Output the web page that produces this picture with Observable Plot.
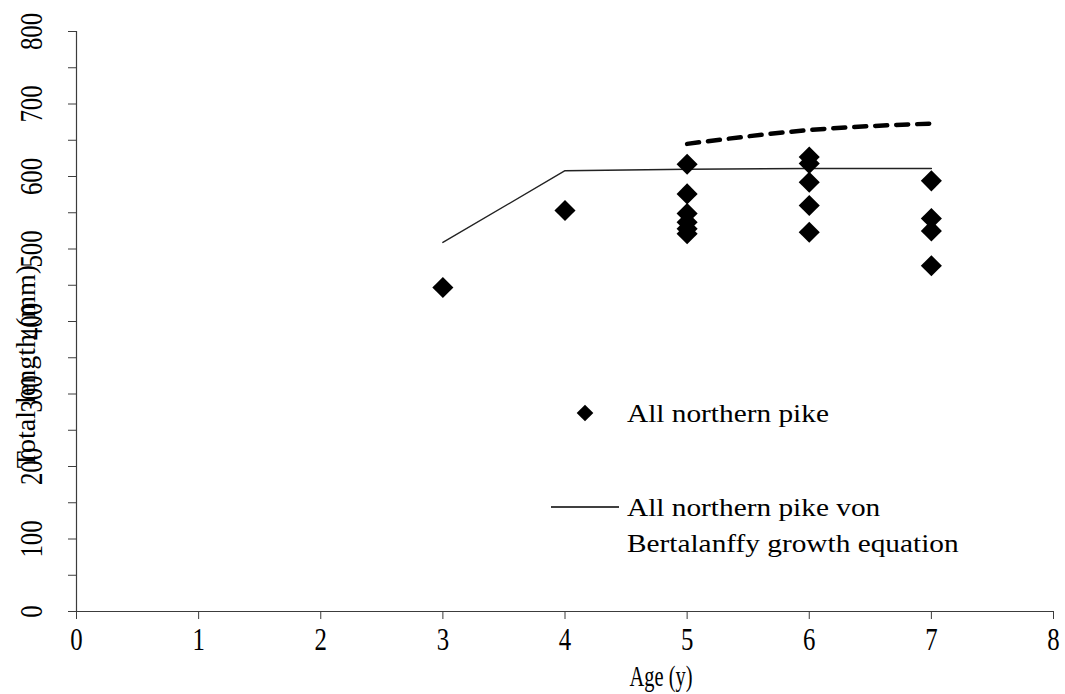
<!DOCTYPE html>
<html>
<head>
<meta charset="utf-8">
<script src="https://cdn.jsdelivr.net/npm/d3@7"></script>
<script src="https://cdn.jsdelivr.net/npm/@observablehq/plot@0.6"></script>
<style>
  html, body { margin: 0; padding: 0; background: #fff; }
  #chart { width: 1065px; height: 694px; }
</style>
</head>
<body>
<div id="chart"></div>
<script>
// Individual fish: age (years) and total length (mm)
const pikeAge    = [3,   4,   5,   5,   5,   5,   5,   5,   6,   6,   6,   6,   6,   7,   7,   7,   7];
const pikeLength = [447, 553, 617, 576, 549, 537, 528, 521, 627, 618, 592, 560, 523, 594, 542, 525, 477];

// von Bertalanffy growth curve for all northern pike
const vbAge    = [3,   4,   5,   6,   7];
const vbLength = [509, 608, 610, 611, 611];

// Second (dashed) curve
const dashAge    = [5,   6,   7];
const dashLength = [645, 664, 673];

// Axis ticks
const xTicks      = [0, 1, 2, 3, 4, 5, 6, 7, 8];
const yTicks      = [0, 100, 200, 300, 400, 500, 600, 700, 800];
const yMinorTicks = d3.range(0, 801, 50);

const legendItems = ["All northern pike", "All northern pike von", "Bertalanffy growth equation"];

const points = pikeAge.map((a, i) => ({age: a, length: pikeLength[i]}));
const vb = vbAge.map((a, i) => ({age: a, length: vbLength[i]}));
const dash = dashAge.map((a, i) => ({age: a, length: dashLength[i]}));

const axisGray = "#3c3c3c";

// Legend drawn in frame pixels
function legend(index, scales, values, dim) {
  const g = d3.create("svg:g");
  const ox = dim.marginLeft, oy = dim.marginTop;
  const sym = d3.symbol(d3.symbolDiamond2, Math.PI * 7.5 * 7.5);
  g.append("path")
    .attr("d", sym())
    .attr("transform", `translate(${ox + 509},${oy + 382})`)
    .attr("fill", "#000");
  g.append("line")
    .attr("x1", ox + 475).attr("x2", ox + 543)
    .attr("y1", oy + 476).attr("y2", oy + 476)
    .attr("stroke", "#000").attr("stroke-width", 1.3);
  const rows = [[382, legendItems[0]], [476, legendItems[1]], [512, legendItems[2]]];
  for (const [dy, t] of rows) {
    g.append("text")
      .attr("transform", `translate(${ox + 551},${oy + dy}) scale(1.15,1)`)
      .attr("dy", "0.35em")
      .attr("text-anchor", "start")
      .attr("font-size", 25.5)
      .attr("fill", "#000")
      .text(t);
  }
  return g.node();
}

const chart = Plot.plot({
  width: 1065,
  height: 694,
  marginLeft: 76,
  marginRight: 12,
  marginTop: 31,
  marginBottom: 83,
  style: {fontFamily: "'Liberation Serif', serif", fontSize: "31px", background: "#fff", color: "#000"},
  x: {domain: [0, 8], axis: null},
  y: {domain: [0, 800], axis: null},
  marks: [
    // axes
    Plot.axisY({ticks: yMinorTicks, tickSize: 8, tickFormat: () => "", label: null, stroke: axisGray}),
    Plot.axisX({ticks: xTicks, tickSize: 8, tickFormat: () => "", label: null, stroke: axisGray}),
    Plot.ruleX([0], {stroke: axisGray, strokeWidth: 1.2}),
    Plot.ruleY([0], {stroke: axisGray, strokeWidth: 1.2}),
    Plot.text(yTicks, {x: 0, y: d => d, text: d => String(d), rotate: -90, dx: -44, fill: "#000", className: "ytick-label"}),
    Plot.text(xTicks, {x: d => d, y: 0, text: d => String(d), dy: 29, fill: "#000", className: "xtick-label"}),
    Plot.text(["Age (y)"], {frameAnchor: "bottom", textAnchor: "middle", lineAnchor: "middle", dx: 96, dy: 65, fontSize: 30, fill: "#000", className: "x-title"}),
    Plot.text(["Total length (mm)"], {frameAnchor: "left", textAnchor: "middle", lineAnchor: "middle", rotate: -90, dx: -50, dy: 45, fontSize: 28, fill: "#000", className: "y-title"}),
    // growth curves
    Plot.line(vb, {x: "age", y: "length", stroke: "#222", strokeWidth: 1.4}),
    Plot.line(dash, {x: "age", y: "length", stroke: "#000", strokeWidth: 4.5, strokeDasharray: "12,9", strokeLinecap: "round", curve: "natural"}),
    // individual fish
    Plot.dot(points, {x: "age", y: "length", symbol: "diamond2", r: 9.5, fill: "#000", stroke: "none"}),
    legend
  ]
});

// Narrow the axis lettering
function squeeze(sel, sx) {
  d3.select(chart).selectAll(sel + " text").each(function() {
    const t = this.getAttribute("transform") || "";
    this.setAttribute("transform", `${t} scale(${sx},1)`);
  });
}
squeeze(".ytick-label", 0.8);
squeeze(".xtick-label", 0.8);
squeeze(".x-title", 0.68);

document.getElementById("chart").appendChild(chart);
</script>
</body>
</html>
